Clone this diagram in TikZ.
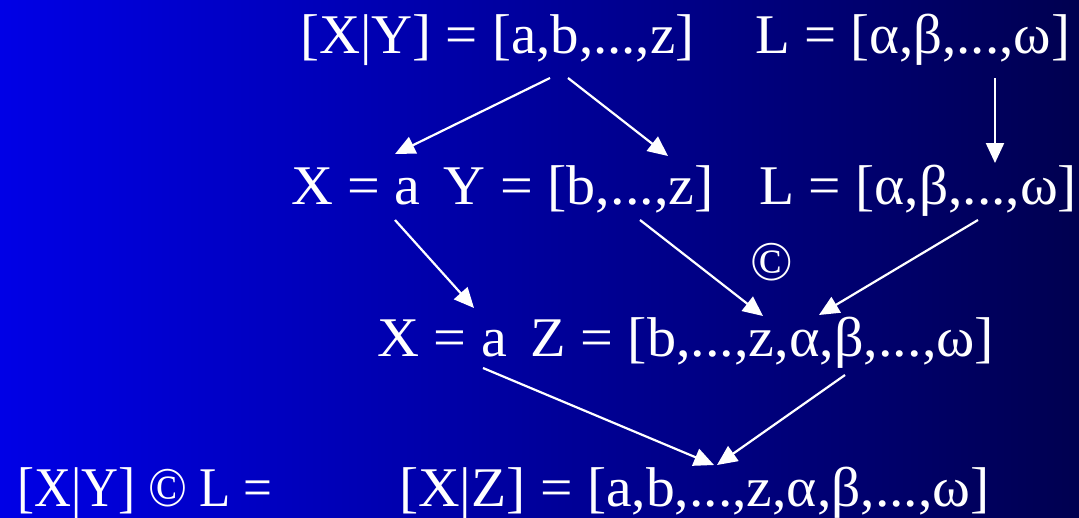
\documentclass[tikz,border=0pt]{standalone}
\usepackage{fontspec}
\setmainfont{Liberation Serif}
\usetikzlibrary{arrows.meta}
\definecolor{bgleft}{RGB}{0,0,230}
\definecolor{bgright}{RGB}{0,0,80}
\newcommand{\hs}[2]{\scalebox{#1}[1]{#2}}
\begin{document}
\begin{tikzpicture}[x=1pt,y=-1pt,
  txt/.style={anchor=base west,inner sep=0pt,text=white,font=\fontsize{56}{60}\selectfont},
  arr/.style={draw=white,line width=2.2pt,-{Triangle[length=20pt,width=18pt]}}]
\shade[left color=bgleft,right color=bgright] (0,0) rectangle (1079,517);
\useasboundingbox (0,0) rectangle (1079,517);
% texts
\node[txt] (r1a) at (300,53) {\hs{1.016}{[X|Y] = [a,b,...,z]}};
\node[txt] (r1b) at (755,53) {\hs{1.016}{L = [α,β,...,ω]}};
\node[txt] (r2a) at (291,204) {\hs{1.037}{X = a\hspace{0.4em}Y = [b,...,z]}};
\node[txt] (r2b) at (759,204) {\hs{1.026}{L = [α,β,...,ω]}};
\node[txt] (cp) at (750,280) {©};
\node[txt] (r3) at (377,356) {\hs{1.039}{X = a\hspace{0.4em}Z = [b,...,z,α,β,...,ω]}};
\node[txt] (r4a) at (17,506) {\hs{0.914}{[X|Y] © L =}};
\node[txt] (r4b) at (399,506) {\hs{1.028}{[X|Z] = [a,b,...,z,α,β,...,ω]}};
% arrow ends
\coordinate (s1) at (550,78); \coordinate (e1) at (395,154);
\coordinate (s2) at (568,78); \coordinate (e2) at (668,156);
\coordinate (s3) at (995,78); \coordinate (e3) at (995,163);
\coordinate (s4) at (395,220); \coordinate (e4) at (474,308);
\coordinate (s5) at (640,220); \coordinate (e5) at (763,316);
\coordinate (s6) at (978,220); \coordinate (e6) at (819,315);
\coordinate (s7) at (483,368); \coordinate (e7) at (714,465);
\coordinate (s8) at (845,375); \coordinate (e8) at (717,465);
\foreach \i in {1,...,8} \draw[arr] (s\i) -- (e\i);
\end{tikzpicture}
\end{document}
